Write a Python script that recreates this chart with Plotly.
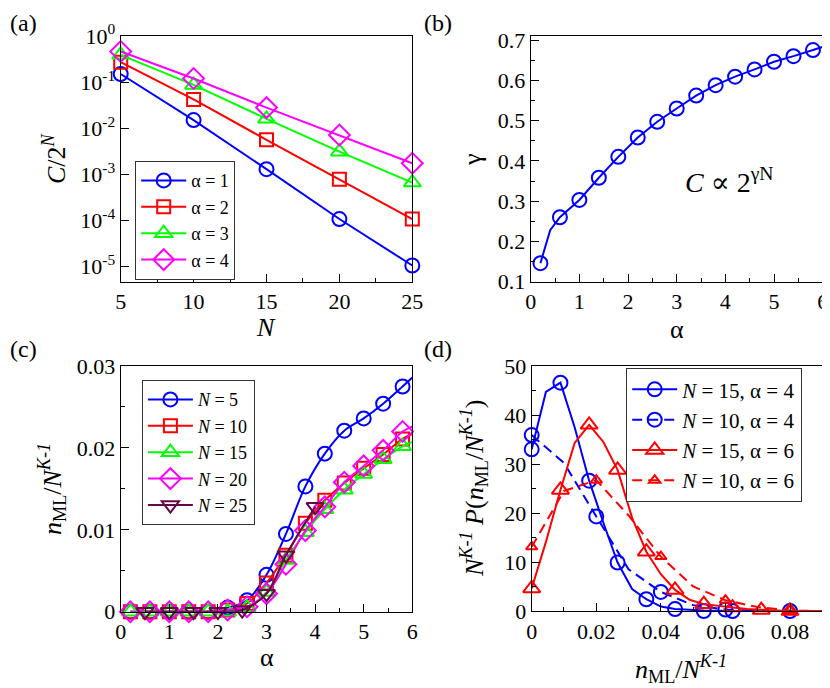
import plotly.graph_objects as go
from plotly.subplots import make_subplots

FONT = "Liberation Serif, Times New Roman, DejaVu Serif, serif"
BLUE = "#0000ff"
RED = "#ff0000"
GREEN = "#00ff00"
MAGENTA = "#ff00ff"
MAROON = "#670748"

# --- (a) C/2^N vs N ---
n_sizes = [5, 10, 15, 20, 25]
c_alpha1 = [0.15, 0.015, 1.29e-3, 1.07e-4, 1.05e-5]
c_alpha2 = [0.27, 0.042, 5.6e-3, 7.8e-4, 1.07e-4]
c_alpha3 = [0.39, 0.087, 0.016, 3.1e-3, 6.6e-4]
c_alpha4 = [0.46, 0.12, 0.028, 7.1e-3, 1.74e-3]
log_ticks = [1, 1e-1, 1e-2, 1e-3, 1e-4, 1e-5]
log_ticktext = ["10<sup>0</sup>", "10<sup>-1</sup>", "10<sup>-2</sup>",
                "10<sup>-3</sup>", "10<sup>-4</sup>", "10<sup>-5</sup>"]

# --- (b) gamma vs alpha ---
alpha_b = [0.2, 0.6, 1.0, 1.4, 1.8, 2.2, 2.6, 3.0, 3.4, 3.8, 4.2, 4.6, 5.0, 5.4, 5.8]
gamma_b = [0.146, 0.26, 0.303, 0.358, 0.41, 0.458, 0.497, 0.53, 0.562, 0.588,
           0.609, 0.627, 0.646, 0.660, 0.675]
alpha_b_line = [0.2, 0.4] + alpha_b[1:] + [6.0]
gamma_b_line = [0.146, 0.228] + gamma_b[1:] + [0.683]

# --- (c) n_ML/N^(K-1) vs alpha ---
alpha_c = [0.2, 0.6, 1.0, 1.4, 1.8, 2.2, 2.6, 3.0, 3.4, 3.8, 4.2, 4.6, 5.0, 5.4, 5.8]
nml_n5 = [0, 0, 0, 0, 0, 0.0005, 0.0014, 0.0045, 0.0095, 0.0153, 0.0193, 0.0221, 0.0236, 0.0254, 0.0275]
nml_n10 = [0, 0, 0, 0, 0, 0.0002, 0.001, 0.0035, 0.0069, 0.0108, 0.0136, 0.0157, 0.0175, 0.0192, 0.0211]
nml_n15 = [0, 0, 0, 0, 0, 0, 0.0005, 0.0024, 0.0063, 0.0097, 0.0125, 0.0149, 0.0168, 0.0186, 0.0202]
nml_n20 = [0, 0, 0, 0, 0, 0.0002, 0.0006, 0.0022, 0.0058, 0.0099, 0.0128, 0.0158, 0.0178, 0.0197, 0.022]
nml_edge = {"5": 0.0286, "10": 0.0217, "15": 0.0207, "20": 0.0226}   # where lines leave the frame at alpha=6
alpha_c25 = [0.5, 1.0, 1.5, 2.0, 2.5, 3.0, 3.4, 4.0]
nml_n25 = [0, 0, 0, 0, 0.0002, 0.0022, 0.0069, 0.0128]

# --- (d) distributions ---
# N=15, alpha=4 (solid)
d1_line_x = [0, 0.0044, 0.0089, 0.0133, 0.0178, 0.0222, 0.0266, 0.0311, 0.0355, 0.04,
             0.0444, 0.0489, 0.0533, 0.0622, 0.0711, 0.08, 0.09]
d1_line_y = [33, 44.7, 46.6, 37.5, 26.6, 18, 9.9, 4.5, 2.4, 0.9, 0.4, 0.2, 0.1, 0, 0, 0, 0]
d1_mark_x = [0, 0.0089, 0.0178, 0.0266, 0.0355, 0.0444, 0.0533, 0.0622, 0.08]
d1_mark_y = [33, 46.6, 26.6, 9.9, 2.4, 0.4, 0, 0, 0]
# N=10, alpha=4 (dashed)
d2_line_x = [0, 0.01, 0.02, 0.03, 0.04, 0.05, 0.06, 0.07, 0.08, 0.09]
d2_line_y = [35.9, 30.2, 19.3, 8.5, 3.9, 1.2, 0.3, 0, 0, 0]
d2_mark_x = [0, 0.02, 0.04, 0.06]
d2_mark_y = [35.9, 19.3, 3.9, 0.3]
# N=15, alpha=6 (solid)
d3_line_x = [0, 0.0044, 0.0089, 0.0133, 0.0178, 0.0222, 0.0266, 0.0311, 0.0355, 0.04,
             0.0444, 0.0489, 0.0533, 0.0578, 0.0622, 0.0667, 0.0711, 0.0756, 0.08, 0.09]
d3_line_y = [4.6, 14.1, 24.7, 34.3, 38, 34.5, 28.8, 19, 12.1, 7.5,
             4.3, 2.3, 1.4, 1.0, 0.7, 0.4, 0.2, 0.1, 0, 0]
d3_mark_x = [0, 0.0089, 0.0178, 0.0266, 0.0355, 0.0444, 0.0533, 0.0622, 0.0711, 0.08]
d3_mark_y = [4.6, 24.7, 38, 28.8, 12.1, 4.3, 1.4, 0.7, 0.2, 0]
# N=10, alpha=6 (dashed)
d4_line_x = [0, 0.01, 0.02, 0.03, 0.04, 0.05, 0.06, 0.07, 0.08, 0.09]
d4_line_y = [13.1, 24.5, 26.7, 19.5, 11.1, 5.0, 2.2, 0.8, 0.1, 0]
d4_mark_x = [0, 0.02, 0.04, 0.06, 0.08]
d4_mark_y = [13.1, 26.7, 11.1, 2.2, 0.1]

fig = make_subplots(rows=2, cols=2)


def series(x, y, color, symbol, name, row, col, legend, size=14, dash="solid",
           line_x=None, line_y=None, shape="linear"):
    # line first, then open markers on top, then a legend-only entry
    lx = line_x if line_x is not None else x
    ly = line_y if line_y is not None else y
    fig.add_trace(go.Scatter(x=lx, y=ly, mode="lines", line=dict(color=color, width=2, dash=dash, shape=shape),
                             showlegend=False, hoverinfo="skip"), row=row, col=col)
    fig.add_trace(go.Scatter(x=x, y=y, mode="markers", cliponaxis=False,
                             marker=dict(symbol=symbol, size=size, color=color, line=dict(width=2, color=color)),
                             showlegend=False), row=row, col=col)
    if legend:
        fig.add_trace(go.Scatter(x=[None], y=[None], mode="lines+markers", name=name, legend=legend,
                                 line=dict(color=color, width=2, dash=dash),
                                 marker=dict(symbol=symbol, size=size, color=color, line=dict(width=2, color=color))),
                      row=row, col=col)


# (a)
series(n_sizes, c_alpha1, BLUE, "circle-open", "α = 1", 1, 1, "legend")
series(n_sizes, c_alpha2, RED, "square-open", "α = 2", 1, 1, "legend", size=13)
series(n_sizes, c_alpha3, GREEN, "triangle-up-open", "α = 3", 1, 1, "legend", size=15)
series(n_sizes, c_alpha4, MAGENTA, "diamond-open", "α = 4", 1, 1, "legend", size=16)

# (b)
series(alpha_b, gamma_b, BLUE, "circle-open", "", 1, 2, None, line_x=alpha_b_line, line_y=gamma_b_line)

# (c)
series(alpha_c, nml_n5, BLUE, "circle-open", "<i>N</i> = 5", 2, 1, "legend2",
       line_x=alpha_c + [6.0], line_y=nml_n5 + [nml_edge["5"]], shape="spline")
series(alpha_c, nml_n10, RED, "square-open", "<i>N</i> = 10", 2, 1, "legend2", size=13,
       line_x=alpha_c + [6.0], line_y=nml_n10 + [nml_edge["10"]], shape="spline")
series(alpha_c, nml_n15, GREEN, "triangle-up-open", "<i>N</i> = 15", 2, 1, "legend2", size=15,
       line_x=alpha_c + [6.0], line_y=nml_n15 + [nml_edge["15"]], shape="spline")
series(alpha_c, nml_n20, MAGENTA, "diamond-open", "<i>N</i> = 20", 2, 1, "legend2", size=16,
       line_x=alpha_c + [6.0], line_y=nml_n20 + [nml_edge["20"]], shape="spline")
series(alpha_c25, nml_n25, MAROON, "triangle-down-open", "<i>N</i> = 25", 2, 1, "legend2", size=15,
       shape="spline")

# (d)
series(d1_mark_x, d1_mark_y, BLUE, "circle-open", "<i>N</i> = 15, α = 4", 2, 2, "legend3",
       line_x=d1_line_x, line_y=d1_line_y)
series(d2_mark_x, d2_mark_y, BLUE, "circle-open", "<i>N</i> = 10, α = 4", 2, 2, "legend3",
       dash="10px,6px", line_x=d2_line_x, line_y=d2_line_y)
series(d3_mark_x, d3_mark_y, RED, "triangle-up-open", "<i>N</i> = 15, α = 6", 2, 2, "legend3", size=15,
       line_x=d3_line_x, line_y=d3_line_y)
series(d4_mark_x, d4_mark_y, RED, "triangle-up-open", "<i>N</i> = 10, α = 6", 2, 2, "legend3", size=10,
       dash="10px,6px", line_x=d4_line_x, line_y=d4_line_y)

# the page body adds an 8px margin, so the figure is 8px smaller and all
# positions below are given in window pixels and shifted back
W, H, OFF = 822, 680, 8


def px(v):
    return (v - OFF) / W


def py(v):
    return 1 - (v - OFF) / H


axis_common = dict(showgrid=False, zeroline=False, showline=True, linecolor="black", linewidth=1.2,
                   mirror=True, ticks="inside", ticklen=8, tickwidth=1, tickcolor="black",
                   automargin=False,
                   tickfont=dict(family=FONT, size=22, color="black"))
minor = dict(ticks="inside", ticklen=4, tickcolor="black", tickwidth=1, showgrid=False)

fig.update_xaxes(axis_common)
fig.update_yaxes(axis_common)

# (a)
fig.update_xaxes(domain=[px(120.7), px(412.3)], range=[5, 25], tick0=5, dtick=5,
                 minor=dict(minor, dtick=2.5), row=1, col=1)
fig.update_yaxes(domain=[py(281.7), py(36)], type="log", range=[-5.33, 0],
                 tickvals=log_ticks, ticktext=log_ticktext, row=1, col=1)
# (b)
fig.update_xaxes(domain=[px(530.7), px(822.7)], range=[0, 6], dtick=1,
                 minor=dict(minor, dtick=0.5), row=1, col=2)
fig.update_yaxes(domain=[py(281.7), py(36)], range=[0.1, 0.71], tick0=0.1, dtick=0.1,
                 minor=dict(minor, dtick=0.05), row=1, col=2)
# (c)
fig.update_xaxes(domain=[px(120.7), px(412.3)], range=[0, 6], dtick=1,
                 minor=dict(minor, dtick=0.5), row=2, col=1)
fig.update_yaxes(domain=[py(611.7), py(366)], range=[0, 0.03], dtick=0.01,
                 minor=dict(minor, dtick=0.005), row=2, col=1)
# (d)
fig.update_xaxes(domain=[px(531.7), px(822.3)], range=[0, 0.09], dtick=0.02,
                 minor=dict(minor, dtick=0.01), row=2, col=2)
fig.update_yaxes(domain=[py(611), py(366)], range=[0, 50], dtick=10,
                 minor=dict(minor, dtick=5), row=2, col=2)

legend_common = dict(xanchor="left", yanchor="top", bgcolor="white", bordercolor="#333333", borderwidth=1.2,
                     itemwidth=45, tracegroupgap=0)

fig.update_layout(
    width=W, height=H,
    margin=dict(l=0, r=0, t=0, b=0),
    plot_bgcolor="white", paper_bgcolor="white",
    font=dict(family=FONT, color="black"),
    legend=dict(legend_common, x=px(135), y=py(161), font=dict(family=FONT, size=18, color="black")),
    legend2=dict(legend_common, x=px(141.7), y=py(380), font=dict(family=FONT, size=18, color="black")),
    legend3=dict(legend_common, x=px(626), y=py(368), font=dict(family=FONT, size=21, color="black")),
    showlegend=True,
)

# axis titles (placed by hand, xmgrace style)
titles = [
    ("<i>N</i>", 266, 327, 0),
    ("<i>C</i>/2<sup><i>N</i></sup>", 54, 159, -90),
    ("α", 677, 329, 0),
    ("γ", 472, 160, -90),
    ("α", 267, 657, 0),
    ("<i>n</i><sub>ML</sub>/<i>N</i><sup><i>K-1</i></sup>", 52, 489, -90),
    ("<i>n</i><sub>ML</sub>/<i>N</i><sup><i>K-1</i></sup>", 681, 669, 0),
    ("<i>N</i><sup><i>K-1</i></sup> <i>P</i>(<i>n</i><sub>ML</sub>/<i>N</i><sup><i>K-1</i></sup>)", 474, 488, -90),
]
for text, tx, ty, angle in titles:
    fig.add_annotation(text=text, x=px(tx), y=py(ty), xref="paper", yref="paper",
                       xanchor="center", yanchor="middle", textangle=angle, showarrow=False,
                       font=dict(family=FONT, size=26, color="black"))

# panel labels and the scaling note
for label, lx, ly in [("(a)", 8, 8), ("(b)", 422, 8), ("(c)", 8, 334), ("(d)", 422, 334)]:
    fig.add_annotation(text=label, x=px(lx), y=py(ly), xref="paper", yref="paper",
                       xanchor="left", yanchor="top", showarrow=False,
                       font=dict(family=FONT, size=24, color="black"))
fig.add_annotation(text="<i>C</i> ∝ 2<sup>γN</sup>", x=3.12, y=0.35, xref="x2", yref="y2",
                   xanchor="left", yanchor="middle", showarrow=False,
                   font=dict(family=FONT, size=28, color="black"))

fig.write_html("out.html")
